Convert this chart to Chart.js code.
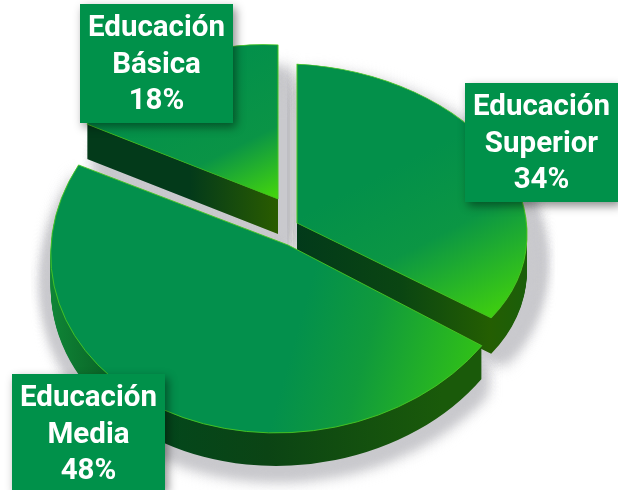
<!DOCTYPE html>
<html>
<head>
<meta charset="utf-8">
<title>Educación</title>
<script src="https://cdn.jsdelivr.net/npm/chart.js@4"></script>
<style>
    html, body { margin: 0; padding: 0; background: #fff; }
    #pie_chart { display: block; }
</style>
</head>
<body>
<canvas id="pie_chart" width="618" height="490"></canvas>
<script>
// pie.js
const categories = ['Educación Superior', 'Educación Media', 'Educación Básica'];
const shares = [34, 48, 18];

// one entry per slice, same order as categories
const slices = [
    {
        cx: 297, cy: 223, radius: 230, squash: 0.691, shear: 0.05, lean: 0, depth: 36, shadow: [8, 10],
        top: [350, 190, 495, 318, [[0, '#03904a'], [0.45, '#0b9644'], [1, '#40d00e']]],
        wall: [[297, '#023a1a'], [400, '#0a4512'], [490, '#245e02'], [525, '#1b5e0a']]
    },
    {
        cx: 288, cy: 245, radius: 237, squash: 0.793, shear: 0, lean: -0.05, depth: 33, shadow: [2, 12],
        top: [300, 320, 480, 345, [[0, '#03904c'], [0.4, '#109a3c'], [1, '#30c018']]],
        wall: [[55, '#0f8436'], [100, '#0b6d2b'], [167, '#03471c'], [280, '#0b4414'], [450, '#1a5a0a']]
    },
    {
        cx: 278, cy: 199, radius: 211, squash: 0.73, shear: 0.049, lean: 0, depth: 35, shadow: [12, 26],
        top: [170, 90, 278, 199, [[0, '#03904a'], [0.55, '#0a9446'], [1, '#46d80a']]],
        wall: [[90, '#033a1a'], [190, '#033a1a'], [278, '#2a5c00']]
    }
];

// back to front
const drawOrder = [2, 0, 1];

const labelBoxes = [
    { x: 465, y: 83, w: 153, h: 119 },
    { x: 12, y: 374, w: 153, h: 116 },
    { x: 80, y: 4, w: 153, h: 119 }
];

function applySlice(ctx, s, yShift) {
    ctx.transform(1, s.shear, s.lean, s.squash, s.cx, s.cy + yShift);
}

// gradient points are given on the page, the fill happens inside the slice transform
function toLocal(s, px, py) {
    const dx = px - s.cx;
    const dy = py - s.cy;
    const det = s.squash - s.lean * s.shear;
    return [(s.squash * dx - s.lean * dy) / det, (dy - s.shear * dx) / det];
}

function sliceGradient(ctx, s) {
    const [x0, y0, x1, y1, stops] = s.top;
    const a = toLocal(s, x0, y0);
    const b = toLocal(s, x1, y1);
    const g = ctx.createLinearGradient(a[0], a[1], b[0], b[1]);
    stops.forEach(st => g.addColorStop(st[0], st[1]));
    return g;
}

function wallGradient(ctx, s) {
    const first = s.wall[0][0];
    const last = s.wall[s.wall.length - 1][0];
    const g = ctx.createLinearGradient(first - s.cx, 0, last - s.cx, 0);
    s.wall.forEach(st => g.addColorStop((st[0] - first) / (last - first), st[1]));
    return g;
}

// draws the library's arc at the slice position with other fill options
function drawArc(ctx, arc, s, overrides, radius) {
    const stand = Object.create(arc);
    stand.x = 0;
    stand.y = 0;
    stand.outerRadius = radius || s.radius;
    stand.options = Object.assign({}, arc.options, overrides);
    arc.draw.call(stand, ctx);
}

const pie3d = {
    id: 'pie3d',
    beforeDatasetsDraw(chart) {
        const ctx = chart.ctx;
        const arcs = chart.getDatasetMeta(0).data;

        // soft shadow on the ground
        ctx.save();
        ctx.filter = 'blur(8px)';
        drawOrder.forEach(i => {
            const s = slices[i];
            for (let d = 0; d <= s.depth; d += 4) {
                ctx.save();
                ctx.translate(s.shadow[0], s.shadow[1]);
                applySlice(ctx, s, d);
                drawArc(ctx, arcs[i], s, { backgroundColor: '#c9c9cd', borderWidth: 0 }, s.radius + 4);
                ctx.restore();
            }
        });
        ctx.restore();

        drawOrder.forEach(i => {
            const s = slices[i];
            ctx.save();
            applySlice(ctx, s, 0);
            const wall = wallGradient(ctx, s);
            const face = sliceGradient(ctx, s);
            ctx.restore();

            for (let d = s.depth; d > 0; d--) {
                ctx.save();
                applySlice(ctx, s, d);
                drawArc(ctx, arcs[i], s, { backgroundColor: wall, borderWidth: 0 });
                ctx.restore();
            }

            ctx.save();
            applySlice(ctx, s, 0);
            drawArc(ctx, arcs[i], s, { backgroundColor: face, borderColor: '#49c722', borderWidth: 1 });
            ctx.restore();
        });
    },
    // the slices are already painted above
    beforeDatasetDraw() {
        return false;
    },
    afterDatasetsDraw(chart) {
        const ctx = chart.ctx;
        categories.forEach((name, i) => {
            const box = labelBoxes[i];
            ctx.save();
            ctx.shadowColor = 'rgba(0,0,0,0.45)';
            ctx.shadowBlur = 9;
            ctx.shadowOffsetX = 3;
            ctx.shadowOffsetY = 4;
            ctx.fillStyle = '#00914a';
            ctx.fillRect(box.x, box.y, box.w, box.h);
            ctx.restore();

            const lines = name.split(' ').concat(shares[i] + '%');
            ctx.save();
            ctx.fillStyle = '#ffffff';
            ctx.font = 'bold 29.5px Roboto';
            ctx.textAlign = 'center';
            ctx.textBaseline = 'middle';
            lines.forEach((line, n) => {
                ctx.fillText(line, box.x + box.w / 2, box.y + 25 + n * 36.2);
            });
            ctx.restore();
        });
    }
};

new Chart(document.getElementById('pie_chart').getContext('2d'), {
    type: 'pie',
    data: {
        labels: categories,
        datasets: [{
            data: shares
        }]
    },
    options: {
        responsive: false,
        animation: false,
        events: [],
        plugins: {
            legend: { display: false },
            tooltip: { enabled: false }
        }
    },
    plugins: [pie3d]
});
</script>
</body>
</html>
